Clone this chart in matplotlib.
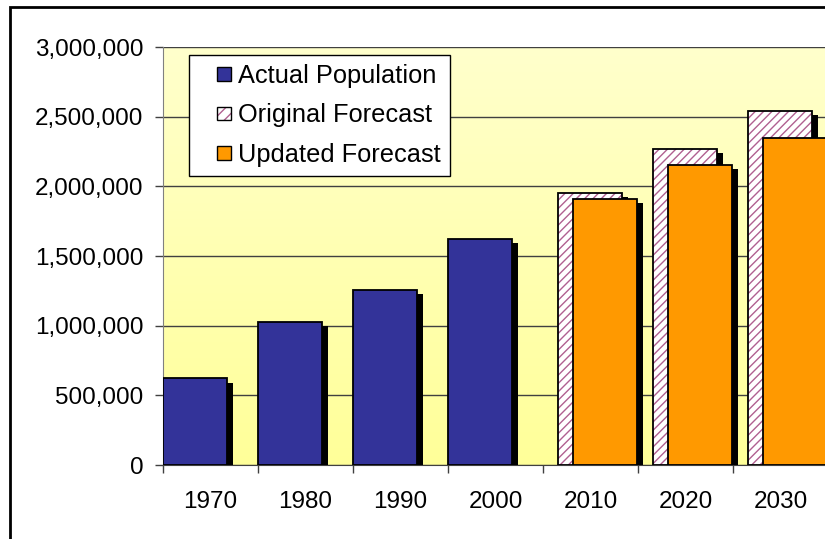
import matplotlib
matplotlib.use("Agg")
import matplotlib.pyplot as plt
import matplotlib.patheffects as pe
from matplotlib.patches import Patch, Rectangle
from matplotlib.legend_handler import HandlerPatch
from matplotlib.ticker import FuncFormatter, FixedLocator
from matplotlib.colors import LinearSegmentedColormap
import numpy as np

plt.rcParams['font.family'] = ['Liberation Sans', 'DejaVu Sans']
plt.rcParams['hatch.linewidth'] = 1.0

years = ["1970", "1980", "1990", "2000", "2010", "2020", "2030"]
actual_years = ["1970", "1980", "1990", "2000"]
actual_population = [622000, 1026000, 1256000, 1622000]
forecast_years = ["2010", "2020", "2030"]
original_forecast = [1950000, 2266000, 2543000]
updated_forecast = [1909000, 2155000, 2349000]
series_names = ["Actual Population", "Original Forecast", "Updated Forecast"]

BLUE = "#333399"
ORANGE = "#FF9900"
HATCH_C = "#B06090"

fig = plt.figure(figsize=(8.25, 5.39), dpi=100)
fig.patch.set_facecolor("white")
ax = fig.add_axes([163/825, 74/539, 665/825, 418/539])

# background gradient
grad = np.linspace(0, 1, 256).reshape(-1, 1)
cmap = LinearSegmentedColormap.from_list("bg", ["#FFFFCC", "#FFFF99"])
ax.imshow(grad, cmap=cmap, extent=[0, 1, 0, 1], transform=ax.transAxes,
          aspect='auto', zorder=0, origin='upper')

pos = {y: i for i, y in enumerate(years)}
w = 64/95
off_orig = 15/95
off_upd = 30/95
shadow = [pe.SimplePatchShadow(offset=(4, -3), shadow_rgbFace='black', alpha=1.0), pe.Normal()]

xa = np.array([pos[y] for y in actual_years]) - 0.5 + w/2
ax.bar(xa, actual_population, width=w, color=BLUE, edgecolor='black', linewidth=1.3,
       zorder=3, path_effects=shadow)

xf = np.array([pos[y] for y in forecast_years]) - 0.5
for i in range(len(forecast_years)):
    xo = xf[i] + off_orig + w/2
    ax.bar(xo, original_forecast[i], width=w, color='white', edgecolor='none', linewidth=0,
           zorder=3, path_effects=shadow)
    ax.bar(xo, original_forecast[i], width=w, fill=False, edgecolor=HATCH_C, hatch='////',
           linewidth=0, zorder=3)
    ax.bar(xo, original_forecast[i], width=w, fill=False, edgecolor='black', linewidth=1.3,
           zorder=3)
    xu = xf[i] + off_upd + w/2
    ax.bar(xu, updated_forecast[i], width=w, color=ORANGE, edgecolor='black', linewidth=1.3,
           zorder=3, path_effects=shadow)

ax.set_xlim(-0.5, len(years) - 0.5)
ax.set_ylim(0, 3000000)
ax.set_yticks(np.arange(0, 3000001, 500000))
ax.yaxis.set_major_formatter(FuncFormatter(lambda v, p: f"{v:,.0f}"))
ax.grid(axis='y', color='#404040', linewidth=1.0)
ax.set_axisbelow(True)

ax.xaxis.set_major_locator(FixedLocator(np.arange(-0.5, len(years), 1.0)))
ax.xaxis.set_minor_locator(FixedLocator(np.arange(len(years))))
ax.set_xticklabels([], minor=False)
ax.set_xticklabels(years, minor=True)
ax.tick_params(axis='x', which='major', length=6, width=1, color='#404040', direction='out')
ax.tick_params(axis='x', which='minor', length=0, pad=19, labelsize=17.5)
ax.tick_params(axis='y', length=6, width=1, color='#404040', direction='out', pad=8, labelsize=17.5)

for s in ['top', 'right']:
    ax.spines[s].set_visible(False)
ax.spines['left'].set_color('#808080')
ax.spines['bottom'].set_color('#404040')

SQ = 10.0  # legend key size in points


def square_patch(legend, orig_handle, xdescent, ydescent, width, height, fontsize):
    return Rectangle((-xdescent + width - SQ, -ydescent + (height - SQ) / 2), SQ, SQ)


h_actual = Patch(facecolor=BLUE, edgecolor='black', linewidth=1)
h_orig = (Patch(facecolor='white', edgecolor=HATCH_C, hatch='///', linewidth=0),
          Patch(fill=False, edgecolor='black', linewidth=1))
h_upd = Patch(facecolor=ORANGE, edgecolor='black', linewidth=1)
leg = ax.legend([h_actual, h_orig, h_upd], series_names, loc='upper left',
                bbox_to_anchor=(26/665, 410/418), borderaxespad=0, fontsize=18.3,
                handler_map={Patch: HandlerPatch(patch_func=square_patch)},
                handlelength=1.28, handleheight=0.7, handletextpad=0.3,
                labelspacing=0.6, borderpad=0.36, fancybox=False, framealpha=1,
                edgecolor='black')
leg.get_frame().set_linewidth(1.0)
leg.set_zorder(10)

fig.patches.append(Rectangle((10/825, -0.1), 2, 1.1 - 7/539, fill=False,
                             edgecolor='black', linewidth=2, transform=fig.transFigure,
                             figure=fig))

fig.savefig("out.png", dpi=100)
